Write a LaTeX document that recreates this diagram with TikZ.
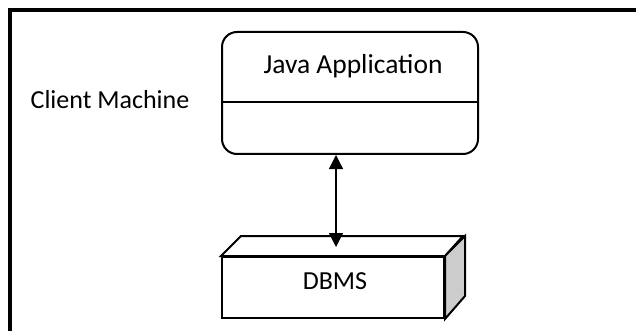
\documentclass[tikz,border=0pt]{standalone}
\usepackage{fontspec}
\setmainfont{Carlito}
\usetikzlibrary{arrows.meta}
\begin{document}
\begin{tikzpicture}[x=1pt,y=-1pt,
  lbl/.style={font=\fontsize{26}{28}\selectfont, inner sep=0pt},
  biglbl/.style={font=\fontsize{27.5}{30}\selectfont, inner sep=0pt},
  appbox/.style={draw, line width=2pt, rounded corners=15pt, minimum width=256pt, minimum height=122pt, inner sep=0pt},
  dbfront/.style={draw, line width=2pt, minimum width=222pt, minimum height=61pt, inner sep=0pt},
  conn/.style={line width=1.2pt, {Triangle[width=14pt,length=14pt]}-{Triangle[width=14pt,length=14pt]}}
]
\useasboundingbox (0,0) rectangle (636,331);
\draw[line width=3.5pt] (636,10) -| (10,331);
\node[lbl] (client) at (110,100) {Client Machine};
\node[appbox] (app) at (350,93) {};
\draw[line width=2pt] (app.west |- 0,102) -- (app.east |- 0,102);
\node[biglbl] (apptext) at (353,66) {Java Application};
\node[dbfront] (db) at (333,287.5) {};
\draw[line width=2pt, fill=white, line join=miter] (db.north west) -- ++(20,-20) -- ++(222,0) -- (db.north east) -- cycle;
\draw[line width=2pt, fill=black!20, line join=miter] (db.north east) -- ++(20,-20) -- ++(0,60) -- (db.south east) -- cycle;
\node[lbl] (dbtext) at (335,281) {DBMS};
\coordinate (tip) at (336,247);
\draw[conn] ([xshift=-14pt]app.south) -- (tip);
\end{tikzpicture}
\end{document}
